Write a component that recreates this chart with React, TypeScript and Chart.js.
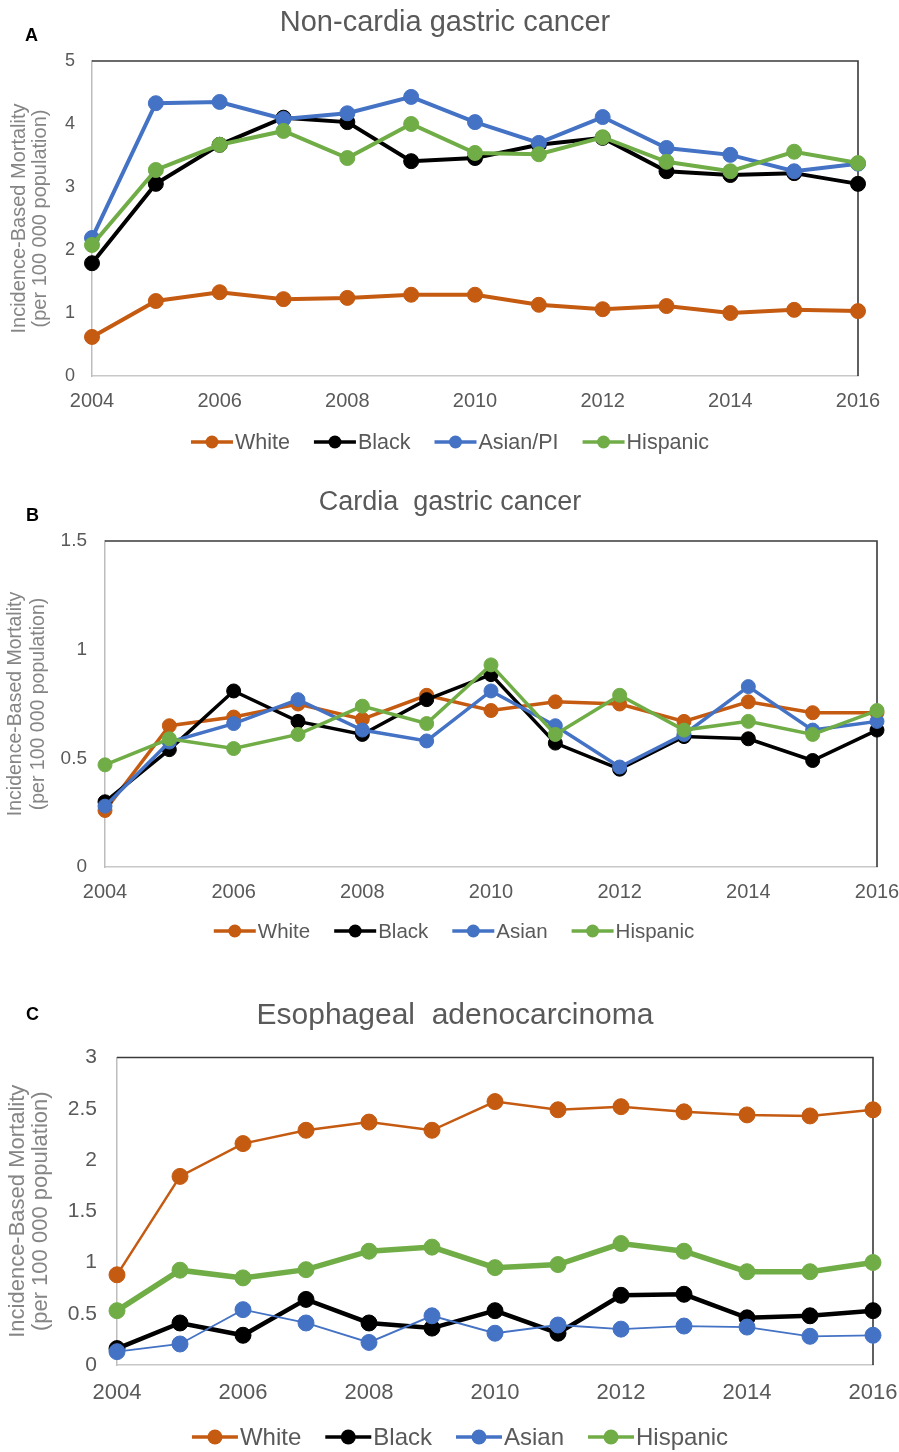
import React, { useEffect, useRef } from 'react';
import { Chart, registerables } from 'chart.js';

Chart.register(...registerables);

// ---------- DATA ----------
const years = ['2004', '2005', '2006', '2007', '2008', '2009', '2010', '2011', '2012', '2013', '2014', '2015', '2016'];

// Panel A: Non-cardia gastric cancer
const aWhite = [0.62, 1.19, 1.33, 1.22, 1.24, 1.29, 1.29, 1.13, 1.06, 1.11, 1.0, 1.05, 1.03];
const aBlack = [1.79, 3.05, 3.67, 4.1, 4.03, 3.41, 3.46, 3.67, 3.78, 3.25, 3.19, 3.22, 3.05];
const aAsian = [2.19, 4.33, 4.35, 4.08, 4.17, 4.43, 4.03, 3.7, 4.11, 3.62, 3.51, 3.25, 3.37];
const aHispanic = [2.08, 3.27, 3.67, 3.89, 3.46, 4.0, 3.54, 3.52, 3.79, 3.4, 3.25, 3.56, 3.38];

// Panel B: Cardia gastric cancer
const bWhite = [0.26, 0.65, 0.69, 0.75, 0.68, 0.79, 0.72, 0.76, 0.75, 0.67, 0.76, 0.71, 0.71];
const bBlack = [0.3, 0.54, 0.81, 0.67, 0.61, 0.77, 0.885, 0.57, 0.45, 0.6, 0.59, 0.49, 0.63];
const bAsian = [0.28, 0.575, 0.66, 0.77, 0.63, 0.58, 0.81, 0.65, 0.46, 0.61, 0.83, 0.63, 0.67];
const bHispanic = [0.47, 0.59, 0.545, 0.61, 0.74, 0.66, 0.93, 0.61, 0.79, 0.63, 0.67, 0.61, 0.72];

// Panel C: Esophageal adenocarcinoma
const cWhite = [0.88, 1.84, 2.16, 2.29, 2.37, 2.29, 2.57, 2.49, 2.52, 2.47, 2.44, 2.43, 2.49];
const cBlack = [0.16, 0.41, 0.29, 0.64, 0.41, 0.36, 0.53, 0.31, 0.68, 0.69, 0.46, 0.48, 0.53];
const cAsian = [0.13, 0.205, 0.54, 0.41, 0.22, 0.48, 0.31, 0.39, 0.35, 0.38, 0.37, 0.28, 0.29];
const cHispanic = [0.53, 0.925, 0.85, 0.93, 1.11, 1.15, 0.95, 0.98, 1.185, 1.11, 0.91, 0.91, 1.0];

const namesA = ['White', 'Black', 'Asian/PI', 'Hispanic'];
const namesBC = ['White', 'Black', 'Asian', 'Hispanic'];

const titleA = 'Non-cardia gastric cancer';
const titleB = 'Cardia  gastric cancer';
const titleC = 'Esophageal  adenocarcinoma';
const yTitleLines = ['Incidence-Based Mortality', '(per 100 000 population)'];

// ---------- STYLE ----------
const COLORS = ['#C55A11', '#000000', '#4472C4', '#70AD47'];
const FONT = "'Liberation Sans', Arial, sans-serif";
const TEXT = '#595959';
const CANVAS_W = 940;

type PanelCfg = {
  values: number[][];
  names: string[];
  yMax: number;
  yStep: number;
  plotLeft: number;
  plotRight: number;
  plotTop: number;
  plotBottom: number;
  legendY: number;
  xTickSize: number;
  yTickSize: number;
  xTickPad: number;
  yTickPad: number;
  yTitleSize: number;
  yTitleLH: number;
  yTitlePad: number;
  lineWidths: number[];
  radius: number;
  legendSize: number;
  legendSample: number;
  legendLine: number;
  legendRadius: number;
  legendCenter: number;
};

const frameBorder = {
  id: 'frameBorder',
  beforeDatasetsDraw(chart: any) {
    const { ctx, chartArea } = chart;
    ctx.save();
    ctx.strokeStyle = '#3a3a3a';
    ctx.lineWidth = 1.6;
    ctx.beginPath();
    ctx.moveTo(chartArea.left, chartArea.top);
    ctx.lineTo(chartArea.right, chartArea.top);
    ctx.lineTo(chartArea.right, chartArea.bottom);
    ctx.stroke();
    ctx.restore();
  },
};

const lineLegend = {
  id: 'lineLegend',
  afterDraw(chart: any, _args: any, opts: any) {
    const { ctx } = chart;
    const ds = chart.data.datasets;
    ctx.save();
    ctx.font = `${opts.size}px ${FONT}`;
    ctx.textBaseline = 'middle';
    const textGap = 2;
    const itemGap = opts.itemGap;
    const widths = ds.map((d: any) => ctx.measureText(d.label).width);
    const total =
      widths.reduce((s: number, w: number) => s + w + opts.sample + textGap, 0) + itemGap * (ds.length - 1);
    let x = opts.center - total / 2;
    const y = opts.y;
    ds.forEach((d: any, i: number) => {
      ctx.strokeStyle = d.borderColor;
      ctx.lineWidth = opts.line;
      ctx.beginPath();
      ctx.moveTo(x, y);
      ctx.lineTo(x + opts.sample, y);
      ctx.stroke();
      ctx.fillStyle = d.borderColor;
      ctx.beginPath();
      ctx.arc(x + opts.sample / 2, y, opts.radius, 0, Math.PI * 2);
      ctx.fill();
      ctx.fillStyle = TEXT;
      ctx.fillText(d.label, x + opts.sample + textGap, y + 1);
      x += opts.sample + textGap + widths[i] + itemGap;
    });
    ctx.restore();
  },
};

function LinePanel({ cfg }: { cfg: PanelCfg }) {
  const ref = useRef<HTMLCanvasElement | null>(null);
  const padTop = 30;
  const xAxisH = 40;
  const canvasTop = cfg.plotTop - padTop;
  const canvasH = cfg.legendY + 24 - canvasTop;
  const plotH = cfg.plotBottom - cfg.plotTop;
  const padBottom = canvasH - padTop - plotH - xAxisH;

  useEffect(() => {
    if (!ref.current) return;
    const datasets = cfg.values.map((vals, i) => ({
      label: cfg.names[i],
      data: vals,
      borderColor: COLORS[i],
      backgroundColor: COLORS[i],
      pointBackgroundColor: COLORS[i],
      pointBorderColor: COLORS[i],
      pointBorderWidth: 1,
      pointRadius: cfg.radius,
      borderWidth: cfg.lineWidths[i],
      tension: 0,
      order: 3 - i,
    }));
    const chart = new Chart(ref.current, {
      type: 'line',
      data: { labels: years, datasets },
      plugins: [frameBorder, lineLegend],
      options: {
        responsive: false,
        animation: false,
        layout: {
          padding: { top: padTop, left: 0, right: CANVAS_W - cfg.plotRight, bottom: padBottom },
        },
        plugins: {
          legend: { display: false },
          title: { display: false },
          tooltip: { enabled: false },
          lineLegend: {
            y: cfg.legendY - canvasTop,
            size: cfg.legendSize,
            sample: cfg.legendSample,
            line: cfg.legendLine,
            radius: cfg.legendRadius,
            center: cfg.legendCenter,
            itemGap: 24,
          },
        } as any,
        scales: {
          x: {
            type: 'category',
            offset: false,
            grid: { display: false, drawTicks: false },
            border: { display: true, color: '#c8c8c8', width: 1.5 },
            ticks: {
              autoSkip: false,
              maxRotation: 0,
              minRotation: 0,
              padding: cfg.xTickPad,
              color: TEXT,
              font: { size: cfg.xTickSize, family: FONT, lineHeight: 1 },
              callback: (_v: any, i: number) => (i % 2 === 0 ? years[i] : ''),
            },
            afterFit: (s: any) => {
              s.height = xAxisH;
            },
          },
          y: {
            min: 0,
            max: cfg.yMax,
            grid: { display: false, drawTicks: false },
            border: { display: true, color: '#bdbdbd', width: 1.5 },
            ticks: {
              stepSize: cfg.yStep,
              padding: cfg.yTickPad,
              color: TEXT,
              font: { size: cfg.yTickSize, family: FONT, lineHeight: 1 },
              callback: (v: any) => String(Math.round(Number(v) * 100) / 100),
            },
            title: {
              display: true,
              text: yTitleLines,
              color: '#858585',
              font: { size: cfg.yTitleSize, family: FONT, lineHeight: cfg.yTitleLH },
              padding: { top: cfg.yTitlePad, bottom: 0 },
            },
            afterFit: (s: any) => {
              s.width = cfg.plotLeft;
            },
          },
        },
      },
    });
    return () => chart.destroy();
  }, []);

  return (
    <canvas
      ref={ref}
      width={CANVAS_W}
      height={canvasH}
      style={{ position: 'absolute', left: 0, top: canvasTop, width: CANVAS_W, height: canvasH, display: 'block' }}
    />
  );
}

const panelA: PanelCfg = {
  values: [aWhite, aBlack, aAsian, aHispanic],
  names: namesA,
  yMax: 5,
  yStep: 1,
  plotLeft: 92,
  plotRight: 858,
  plotTop: 61,
  plotBottom: 376,
  legendY: 442,
  xTickSize: 20,
  yTickSize: 18,
  xTickPad: 15,
  yTickPad: 17,
  yTitleSize: 20,
  yTitleLH: 1.05,
  yTitlePad: 9,
  lineWidths: [4, 4, 4, 4],
  radius: 7.5,
  legendSize: 21.5,
  legendSample: 42,
  legendLine: 3.5,
  legendRadius: 6.5,
  legendCenter: 450,
};

const panelB: PanelCfg = {
  values: [bWhite, bBlack, bAsian, bHispanic],
  names: namesBC,
  yMax: 1.5,
  yStep: 0.5,
  plotLeft: 105,
  plotRight: 877,
  plotTop: 541,
  plotBottom: 867,
  legendY: 931,
  xTickSize: 20,
  yTickSize: 19,
  xTickPad: 15,
  yTickPad: 18,
  yTitleSize: 19.5,
  yTitleLH: 1.2,
  yTitlePad: 4,
  lineWidths: [3.5, 3.5, 3.5, 3.5],
  radius: 7,
  legendSize: 20.5,
  legendSample: 42,
  legendLine: 3.5,
  legendRadius: 6.5,
  legendCenter: 454,
};

const panelC: PanelCfg = {
  values: [cWhite, cBlack, cAsian, cHispanic],
  names: namesBC,
  yMax: 3,
  yStep: 0.5,
  plotLeft: 117,
  plotRight: 873,
  plotTop: 1057,
  plotBottom: 1365,
  legendY: 1437,
  xTickSize: 22,
  yTickSize: 21,
  xTickPad: 17,
  yTickPad: 20,
  yTitleSize: 22,
  yTitleLH: 1.05,
  yTitlePad: 6,
  lineWidths: [2.5, 4.5, 1.8, 5.5],
  radius: 8,
  legendSize: 24,
  legendSample: 46,
  legendLine: 3.5,
  legendRadius: 7.5,
  legendCenter: 460,
};

function Title({ text, cx, top, size }: { text: string; cx: number; top: number; size: number }) {
  return (
    <div
      style={{
        position: 'absolute',
        left: cx - 350,
        width: 700,
        top,
        textAlign: 'center',
        fontFamily: FONT,
        fontSize: size,
        lineHeight: 1,
        color: TEXT,
        whiteSpace: 'pre',
      }}
    >
      {text}
    </div>
  );
}

function Letter({ text, left, top }: { text: string; left: number; top: number }) {
  return (
    <div
      style={{
        position: 'absolute',
        left,
        top,
        fontFamily: FONT,
        fontSize: 18,
        fontWeight: 'bold',
        lineHeight: 1,
        color: '#000',
      }}
    >
      {text}
    </div>
  );
}

export default function App() {
  return (
    <div
      style={{
        position: 'absolute',
        left: 0,
        top: 0,
        width: 899,
        height: 1452,
        overflow: 'hidden',
        background: '#fff',
      }}
    >
      <LinePanel cfg={panelA} />
      <LinePanel cfg={panelB} />
      <LinePanel cfg={panelC} />
      <Title text={titleA} cx={445} top={7} size={29} />
      <Title text={titleB} cx={450} top={488} size={27} />
      <Title text={titleC} cx={455} top={999} size={30} />
      <Letter text="A" left={25} top={26} />
      <Letter text="B" left={26} top={506} />
      <Letter text="C" left={26} top={1005} />
    </div>
  );
}
